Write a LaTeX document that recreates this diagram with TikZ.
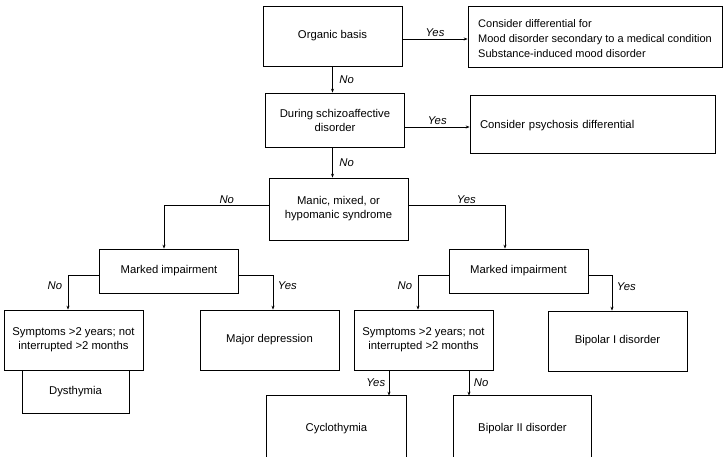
\documentclass[tikz,border=0pt]{standalone}
\usepackage{fontspec}
\setmainfont{Liberation Sans}
\usetikzlibrary{arrows.meta}

\begin{document}
\begin{tikzpicture}[x=1pt,y=-1pt,
  box/.style={draw, line width=0.7pt, minimum width=139pt, minimum height=60pt,
    inner sep=2pt, align=center, font=\fontsize{11.3}{14}\selectfont},
  openbox/.style={box, draw=none},
  arr/.style={line width=0.7pt, -{Stealth[length=4pt,width=3pt]}},
  lab/.style={font=\fontsize{11.3}{12}\selectfont\itshape, inner sep=1.5pt}]
\useasboundingbox (0,0) rectangle (724,456);

% decision and outcome boxes
\node[box] (org) at (332.5,36) {Organic basis};
\node[box, minimum width=254pt, minimum height=61pt] (cdiff) at (595,36.5) {};
\node[align=left, inner sep=0pt, font=\fontsize{11}{15}\selectfont] (cdifftext)
  at ([yshift=-2.5pt]cdiff.center)
  {Consider differential for\\
   Mood disorder secondary to a medical condition\\
   Substance-induced mood disorder};
\node[box, minimum height=54pt] (sch) at (335,120) {During schizoaffective\\disorder};
\node[box, align=left, text width=225pt, inner xsep=10pt, minimum width=245pt,
  minimum height=58pt, text height=12pt, text depth=2.5pt] (cpsy) at (592.5,124)
  {Consider psychosis differential};
\node[box, minimum height=62pt] (manic) at (338.5,209) {Manic, mixed, or\\hypomanic syndrome};
\node[box, minimum height=44pt] (mL) at (169,271) {Marked impairment};
\node[box, minimum height=44pt] (mR) at (518.5,271) {Marked impairment};
\node[box] (symL) at (73.5,340) {Symptoms >2 years; not\\interrupted >2 months};
\node[box, minimum width=107pt, minimum height=43pt] (dys) at (75.5,391.5) {Dysthymia};
\node[box] (majd) at (269.5,340) {Major depression};
\node[box] (symR) at (423.5,340) {Symptoms >2 years; not\\interrupted >2 months};
\node[box] (bip1) at (617.5,341) {Bipolar I disorder};
\node[openbox, minimum height=66pt] (cyc) at (336.5,429) {Cyclothymia};
\node[openbox, minimum width=137pt, minimum height=66pt] (bip2) at (522.5,429) {Bipolar II disorder};
% the last two boxes run off the lower edge
\draw[line width=0.7pt] (cyc.south west) |- (cyc.north east) -- (cyc.south east);
\draw[line width=0.7pt] (bip2.south west) |- (bip2.north east) -- (bip2.south east);

% connectors
\draw[arr] ([yshift=-3pt]org.east) -- ([yshift=-3pt]org.east -| cdiff.west)
  node[lab, midway, above, yshift=1pt] {Yes};
\draw[arr] (org.south) -- (org.south |- sch.north)
  node[lab, midway, right, xshift=5pt] {No};
\draw[arr] ([yshift=-7pt]sch.east) -- ([yshift=-7pt]sch.east -| cpsy.west)
  node[lab, midway, above, yshift=1pt] {Yes};
\draw[arr] (org.south |- sch.south) -- (org.south |- manic.north)
  node[lab, midway, right, xshift=5pt] {No};

\draw[arr] ([yshift=4pt]manic.west) -| ([xshift=-5pt]mL.north)
  node[lab, pos=0.2, above] {No};
\draw[arr] ([yshift=4pt]manic.east) -| ([xshift=-13.5pt]mR.north)
  node[lab, pos=0.3, above] {Yes};

\draw[arr] ([yshift=-4pt]mL.west) -| ([xshift=-5.5pt]symL.north)
  node[lab, pos=0.66, left, xshift=-4pt] {No};
\draw[arr] ([yshift=-4pt]mL.east) -| ([xshift=3.5pt]majd.north)
  node[lab, pos=0.66, right, xshift=3pt] {Yes};
\draw[arr] ([yshift=-4pt]mR.west) -| ([xshift=-5.5pt]symR.north)
  node[lab, pos=0.66, left, xshift=-4pt] {No};
\draw[arr] ([yshift=-4pt]mR.east) -| ([xshift=-5.5pt]bip1.north)
  node[lab, pos=0.66, right, xshift=3pt] {Yes};

\draw[arr] ([xshift=-34.5pt]symR.south) -- ([xshift=-34.5pt]symR.south |- cyc.north)
  node[lab, midway, left, xshift=-2pt] {Yes};
\draw[arr] ([xshift=45.5pt]symR.south) -- ([xshift=45.5pt]symR.south |- bip2.north)
  node[lab, midway, right, xshift=3pt] {No};
\end{tikzpicture}
\end{document}
